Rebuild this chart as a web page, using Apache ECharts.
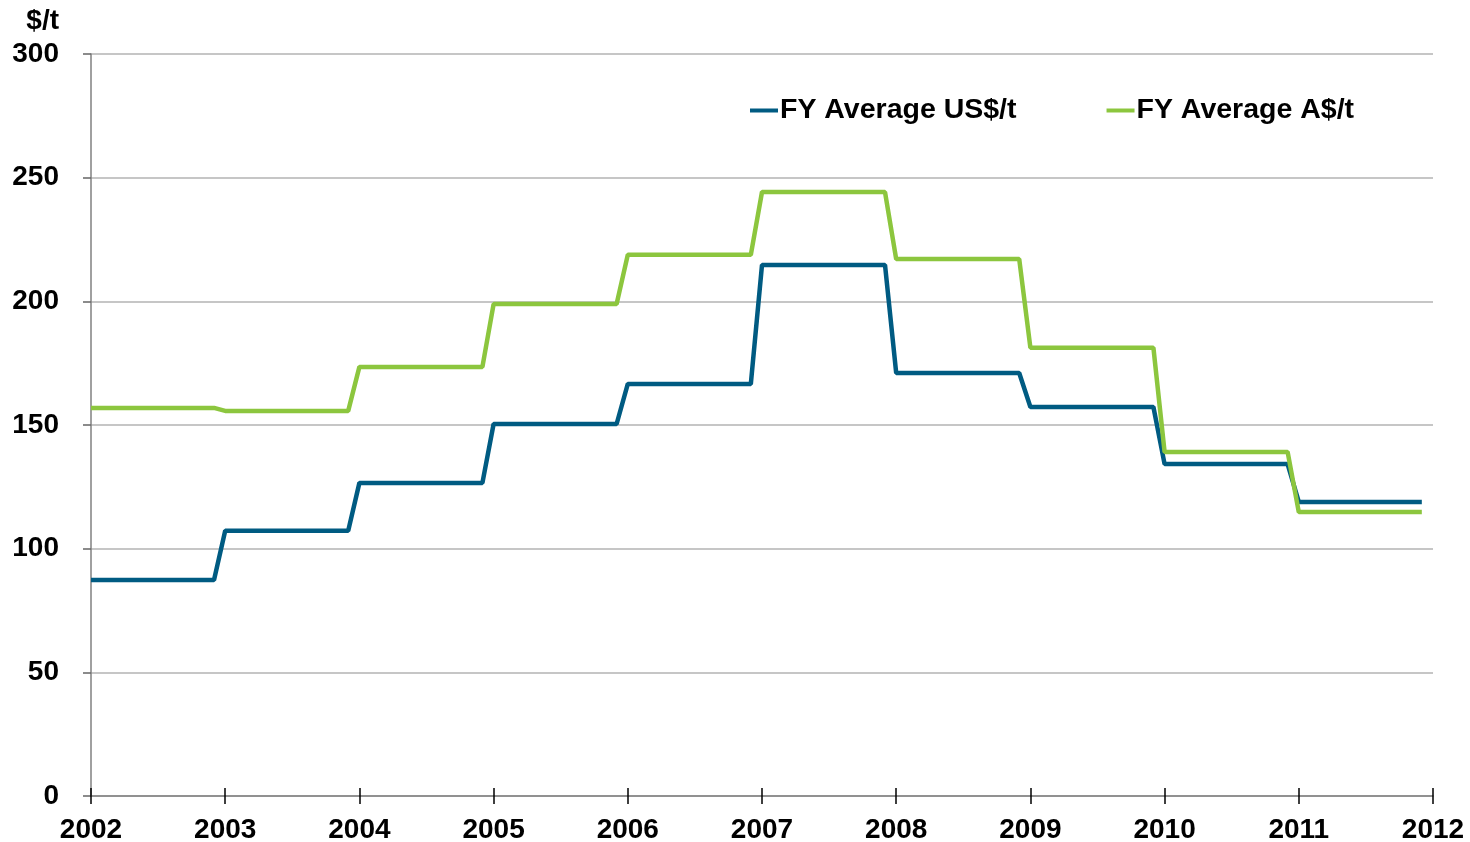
<!DOCTYPE html>
<html>
<head>
    <meta charset="utf-8" />
    <script src="https://cdn.jsdelivr.net/npm/echarts@6/dist/echarts.min.js"></script>
    <style>
        html, body { margin: 0; padding: 0; background: #fff; }
        #chart { width: 1470px; height: 842px; }
    </style>
</head>
<body>
<div id="chart"></div>
<script type="text/javascript">
    // financial years and average prices (step for each year)
    var years = [2002, 2003, 2004, 2005, 2006, 2007, 2008, 2009, 2010, 2011];
    var usdPrice = [87.3, 107.2, 126.6, 150.4, 166.6, 214.7, 171.0, 157.3, 134.2, 118.9];
    var audPrice = [156.9, 155.7, 173.5, 198.9, 218.8, 244.2, 217.1, 181.2, 139.1, 114.8];
    var seriesNames = ['FY Average US$/t', 'FY Average A$/t'];

    // each FY value holds from the first to the last month of the year
    function toSteps(vals) {
        var pts = [];
        for (var i = 0; i < years.length; i++) {
            pts.push([years[i], vals[i]]);
            pts.push([years[i] + 11 / 12, vals[i]]);
        }
        return pts;
    }

    var font = 'Liberation Sans, Arial, sans-serif';
    var chart = echarts.init(document.getElementById('chart'));
    var option = {
        animation: false,
        title: {
            text: '$/t',
            right: 1411,
            top: 7,
            padding: 0,
            textStyle: { fontFamily: font, fontWeight: 'bold', fontSize: 28, color: '#000' }
        },
        legend: {
            data: seriesNames,
            left: 745,
            top: 91,
            icon: 'rect',
            itemWidth: 28,
            itemHeight: 4,
            itemGap: 90,
            textStyle: { fontFamily: font, fontWeight: 'bold', fontSize: 28.5, color: '#000', padding: [0, 0, 0, -3] }
        },
        grid: { left: 91, right: 37, top: 54, bottom: 46, containLabel: false, outerBoundsMode: 'none' },
        xAxis: [
            {
                type: 'value',
                min: 2002,
                max: 2012,
                interval: 1,
                axisLine: { lineStyle: { color: '#808080', width: 1.5 } },
                axisTick: { show: true, length: 8, lineStyle: { color: '#000', width: 1.5 } },
                axisLabel: {
                    margin: 20,
                    fontFamily: font, fontWeight: 'bold', fontSize: 28, color: '#000',
                    formatter: function (v) { return String(v); }
                },
                splitLine: { show: false }
            },
            {
                type: 'value',
                position: 'bottom',
                min: 2002,
                max: 2012,
                interval: 1,
                axisLine: { show: false },
                axisTick: { show: true, inside: true, length: 8, lineStyle: { color: '#000', width: 1.5 } },
                axisLabel: { show: false },
                splitLine: { show: false }
            }
        ],
        yAxis: {
            type: 'value',
            min: 0,
            max: 300,
            interval: 50,
            axisLine: { show: true, lineStyle: { color: '#808080', width: 1.5 } },
            axisTick: { show: true, length: 8, lineStyle: { color: '#666', width: 1.5 } },
            axisLabel: { margin: 32, fontFamily: font, fontWeight: 'bold', fontSize: 28, color: '#000' },
            splitLine: { lineStyle: { color: '#b3b3b3', width: 1.5 } }
        },
        series: [
            {
                name: seriesNames[0],
                type: 'line',
                symbol: 'none',
                data: toSteps(usdPrice),
                itemStyle: { color: '#005b82' },
                lineStyle: { color: '#005b82', width: 4.5 }
            },
            {
                name: seriesNames[1],
                type: 'line',
                symbol: 'none',
                data: toSteps(audPrice),
                itemStyle: { color: '#8cc63e' },
                lineStyle: { color: '#8cc63e', width: 4.5 }
            }
        ]
    };
    chart.setOption(option);
</script>
</body>
</html>
